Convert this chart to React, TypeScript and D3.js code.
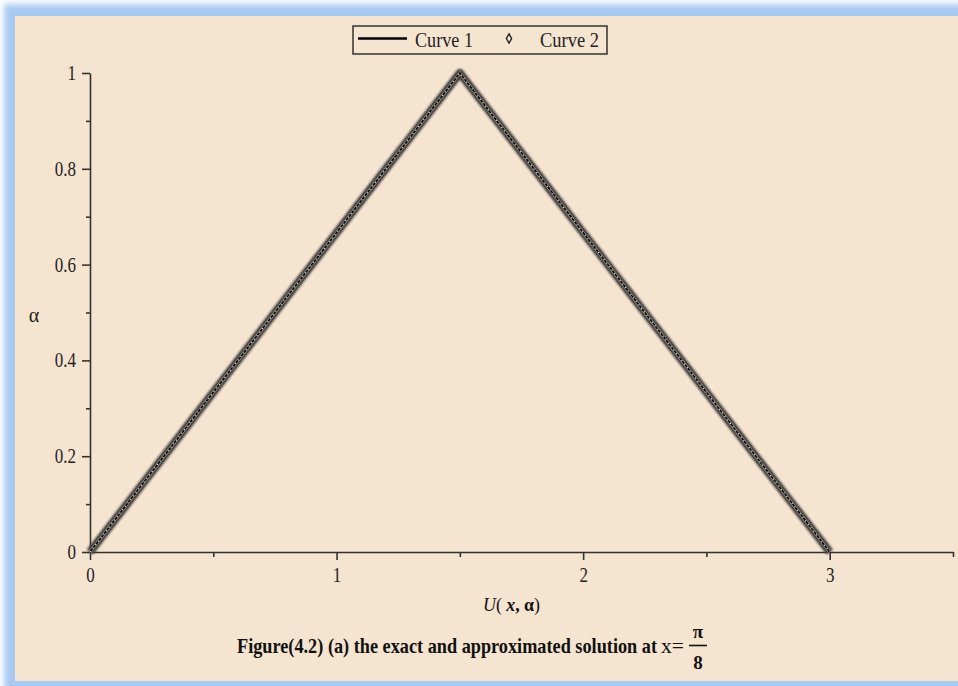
import React, { useEffect, useRef } from 'react';
import * as d3 from 'd3';

const W = 958;
const H = 686;

// axis ticks
const xMajor = [0, 1, 2, 3];
const xMinor = [0.5, 1.5, 2.5, 3.5];
const yMajor = [0, 0.2, 0.4, 0.6, 0.8, 1];
const yMinor = [0.1, 0.3, 0.5, 0.7, 0.9];

// Curve 1 (exact solution, line)
const curve1U = [0, 1.5, 3];
const curve1Alpha = [0, 1, 0];

// Curve 2 (approximated solution, diamonds)
const alphaLevels = [0, 0.05, 0.1, 0.15, 0.2, 0.25, 0.3, 0.35, 0.4, 0.45, 0.5, 0.55, 0.6, 0.65, 0.7, 0.75, 0.8, 0.85, 0.9, 0.95, 1];
const curve2Lower = [0, 0.075, 0.15, 0.225, 0.3, 0.375, 0.45, 0.525, 0.6, 0.675, 0.75, 0.825, 0.9, 0.975, 1.05, 1.125, 1.2, 1.275, 1.35, 1.425, 1.5];
const curve2Upper = [3, 2.925, 2.85, 2.775, 2.7, 2.625, 2.55, 2.475, 2.4, 2.325, 2.25, 2.175, 2.1, 2.025, 1.95, 1.875, 1.8, 1.725, 1.65, 1.575, 1.5];

const SERIF = '"Liberation Serif", "Times New Roman", serif';
const INK = '#222';

const App = () => {
  const svgRef = useRef<SVGSVGElement>(null);

  useEffect(() => {
    const svg = d3.select(svgRef.current);
    svg.selectAll('*').remove();

    const defs = svg.append('defs');
    defs.append('filter').attr('id', 'glow').attr('x', '-10%').attr('y', '-10%').attr('width', '120%').attr('height', '120%')
      .append('feGaussianBlur').attr('stdDeviation', 3);
    defs.append('filter').attr('id', 'soft')
      .append('feGaussianBlur').attr('stdDeviation', 0.9);

    // frame
    svg.append('rect').attr('width', W).attr('height', H).attr('fill', '#ffffff');
    svg.append('rect').attr('x', 4).attr('y', 4).attr('width', W + 40).attr('height', H + 40)
      .attr('fill', '#a8c9f2').attr('filter', 'url(#glow)');
    svg.append('rect').attr('x', 15).attr('y', 16).attr('width', W).attr('height', 665).attr('fill', '#f5e4d0');

    const x = d3.scaleLinear().domain([0, 3.5]).range([90, 953]);
    const y = d3.scaleLinear().domain([0, 1]).range([552, 73]);

    const g = svg.append('g');

    // x axis
    const xAxis = g.append('g').attr('transform', `translate(0,${y(0)})`)
      .call(d3.axisBottom(x).tickValues(xMajor).tickSize(8).tickSizeOuter(0).tickPadding(8).tickFormat(d3.format('d')));
    const xMin = g.append('g').attr('transform', `translate(0,${y(0)})`)
      .call(d3.axisBottom(x).tickValues(xMinor).tickSize(5).tickSizeOuter(0).tickFormat(() => ''));
    xMin.select('.domain').remove();

    // y axis
    const yAxis = g.append('g').attr('transform', `translate(${x(0)},0)`)
      .call(d3.axisLeft(y).tickValues(yMajor).tickSize(8).tickSizeOuter(0).tickPadding(8.5)
        .tickFormat((d: any) => (d === 0 || d === 1 ? d3.format('d')(d) : d3.format('.1f')(d))));
    const yMin = g.append('g').attr('transform', `translate(${x(0)},0)`)
      .call(d3.axisLeft(y).tickValues(yMinor).tickSize(4).tickSizeOuter(0).tickFormat(() => ''));
    yMin.select('.domain').remove();

    [xAxis, xMin, yAxis, yMin].forEach((a) => {
      a.selectAll('path, line').attr('stroke', '#333').attr('stroke-width', 1.6);
      a.selectAll('text').attr('font-family', SERIF).attr('font-size', 20).attr('fill', INK)
        .attr('transform', 'scale(0.85,1)');
    });

    // curve 2 as dense diamonds -> band
    const pts2 = [
      ...alphaLevels.map((a, i) => [curve2Lower[i], a]),
      ...alphaLevels.map((a, i) => [curve2Upper[i], a]).reverse(),
    ];
    const line = d3.line<number[]>().x((d) => x(d[0])).y((d) => y(d[1]));

    g.append('path').attr('d', line(pts2)).attr('fill', 'none').attr('stroke', '#3e3b38')
      .attr('stroke-width', 8).attr('stroke-linejoin', 'round').attr('filter', 'url(#soft)');
    g.append('path').attr('d', line(pts2)).attr('fill', 'none').attr('stroke', '#8e8780')
      .attr('stroke-width', 3.2);

    // curve 1
    const pts1 = curve1U.map((u, i) => [u, curve1Alpha[i]]);
    g.append('path').attr('d', line(pts1)).attr('fill', 'none').attr('stroke', '#000')
      .attr('stroke-width', 1.5);
    g.append('path').attr('d', line(pts2)).attr('fill', 'none').attr('stroke', '#ece4da')
      .attr('stroke-width', 1.2).attr('stroke-dasharray', '1.2 3.2');

    // legend
    const lg = svg.append('g');
    lg.append('rect').attr('x', 353).attr('y', 26).attr('width', 254).attr('height', 28)
      .attr('fill', 'none').attr('stroke', '#333').attr('stroke-width', 1.5);
    lg.append('line').attr('x1', 358).attr('x2', 407).attr('y1', 38.5).attr('y2', 38.5)
      .attr('stroke', '#000').attr('stroke-width', 2.4);
    lg.append('text').attr('x', 415).attr('y', 47).attr('font-family', SERIF).attr('font-size', 20)
      .attr('fill', INK).attr('textLength', 58).attr('lengthAdjust', 'spacingAndGlyphs').text('Curve 1');
    lg.append('path').attr('d', d3.symbol(d3.symbolDiamond, 24)()).attr('transform', 'translate(509,38.5)')
      .attr('fill', 'none').attr('stroke', INK).attr('stroke-width', 1.4);
    lg.append('text').attr('x', 540).attr('y', 47).attr('font-family', SERIF).attr('font-size', 20)
      .attr('fill', INK).attr('textLength', 59).attr('lengthAdjust', 'spacingAndGlyphs').text('Curve 2');

    // y label
    svg.append('text').attr('x', 34).attr('y', 322).attr('text-anchor', 'middle').attr('font-family', SERIF)
      .attr('font-size', 20).attr('fill', INK).text('α');

    // x label U(x, α)
    const xl = svg.append('text').attr('x', 483).attr('y', 611).attr('font-family', SERIF).attr('font-size', 19)
      .attr('fill', '#111').attr('textLength', 57).attr('lengthAdjust', 'spacingAndGlyphs');
    xl.append('tspan').attr('font-style', 'italic').text('U');
    xl.append('tspan').text('( ');
    xl.append('tspan').attr('font-style', 'italic').attr('font-weight', 'bold').text('x');
    xl.append('tspan').attr('font-weight', 'bold').text(', α');
    xl.append('tspan').text(')');

    // caption
    svg.append('text').attr('x', 237).attr('y', 653).attr('font-family', SERIF).attr('font-size', 21)
      .attr('font-weight', 'bold').attr('fill', '#111').attr('textLength', 420).attr('lengthAdjust', 'spacingAndGlyphs')
      .text('Figure(4.2) (a) the exact and approximated solution at');
    svg.append('text').attr('x', 661).attr('y', 653).attr('font-family', SERIF).attr('font-size', 20)
      .attr('fill', '#111').attr('textLength', 23).attr('lengthAdjust', 'spacingAndGlyphs').text('x=');
    svg.append('text').attr('x', 698).attr('y', 638).attr('text-anchor', 'middle').attr('font-family', SERIF)
      .attr('font-size', 19).attr('font-weight', 'bold').attr('fill', '#111').text('π');
    svg.append('line').attr('x1', 689).attr('x2', 707).attr('y1', 645.5).attr('y2', 645.5)
      .attr('stroke', '#111').attr('stroke-width', 1.6);
    svg.append('text').attr('x', 698).attr('y', 669).attr('text-anchor', 'middle').attr('font-family', SERIF)
      .attr('font-size', 19).attr('font-weight', 'bold').attr('fill', '#111').text('8');
  }, []);

  return (
    <svg ref={svgRef} width={W} height={H} style={{ position: 'absolute', left: 0, top: 0, display: 'block' }} />
  );
};

export default App;
